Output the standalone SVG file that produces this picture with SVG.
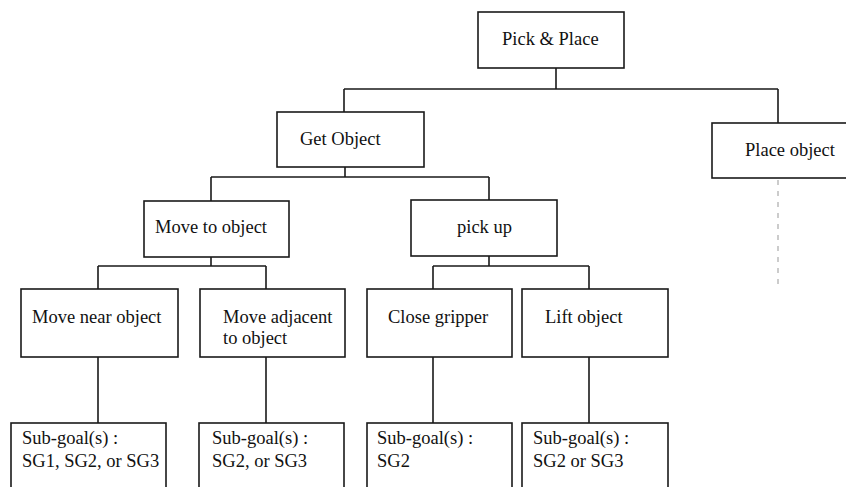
<svg xmlns="http://www.w3.org/2000/svg" width="846" height="487" viewBox="0 0 846 487">
<style>
.box{fill:#fff;stroke:#1a1a1a;stroke-width:1.6}
.lbl{font-family:"Liberation Serif","Times New Roman",serif;font-size:18.5px;fill:#111}
.ln{fill:none;stroke:#1a1a1a;stroke-width:1.6}
.dash{fill:none;stroke:#999;stroke-width:1;stroke-dasharray:5,6}
</style>
<rect width="846" height="487" fill="#fff"/>
<g id="connectors">
<path class="ln" d="M556,68V89M344,89H778M344,89V112M778,89V123"/>
<path class="ln" d="M345,167V177M211,177H489M211,177V201M489,177V200"/>
<path class="ln" d="M211,257V266M98,266H266M98,266V289M266,266V289"/>
<path class="ln" d="M489,256V266M433,266H589M433,266V289M589,266V289"/>
<path class="ln" d="M98,357V423M266,357V423M433,357V423M589,357V423"/>
<path class="dash" d="M778,180V288"/>
</g>
<g id="pick-place"><rect class="box" x="478" y="12" width="146" height="56"/><text class="lbl" x="502" y="45">Pick &amp; Place</text></g>
<g id="get-object"><rect class="box" x="277" y="112" width="147" height="55"/><text class="lbl" x="300" y="145">Get Object</text></g>
<g id="place-object"><rect class="box" x="712" y="123" width="140" height="55"/><text class="lbl" x="745" y="156">Place object</text></g>
<g id="move-to-object"><rect class="box" x="144" y="201" width="145" height="56"/><text class="lbl" x="155" y="233">Move to object</text></g>
<g id="pick-up"><rect class="box" x="411" y="200" width="146" height="56"/><text class="lbl" x="457" y="233">pick up</text></g>
<g id="move-near"><rect class="box" x="21" y="289" width="157" height="68"/><text class="lbl" x="32" y="323">Move near object</text></g>
<g id="move-adjacent"><rect class="box" x="200" y="289" width="145" height="68"/><text class="lbl" x="223" y="323">Move adjacent</text><text class="lbl" x="223" y="344">to object</text></g>
<g id="close-gripper"><rect class="box" x="367" y="289" width="145" height="68"/><text class="lbl" x="388" y="323">Close gripper</text></g>
<g id="lift-object"><rect class="box" x="522" y="289" width="146" height="68"/><text class="lbl" x="545" y="323">Lift object</text></g>
<g id="sg-1"><rect class="box" x="11" y="423" width="155" height="70"/><text class="lbl" x="22" y="444">Sub-goal(s) :</text><text class="lbl" x="22" y="467">SG1, SG2, or SG3</text></g>
<g id="sg-2"><rect class="box" x="199" y="423" width="145" height="70"/><text class="lbl" x="212" y="444">Sub-goal(s) :</text><text class="lbl" x="212" y="467">SG2, or SG3</text></g>
<g id="sg-3"><rect class="box" x="367" y="423" width="145" height="70"/><text class="lbl" x="377" y="444">Sub-goal(s) :</text><text class="lbl" x="377" y="467">SG2</text></g>
<g id="sg-4"><rect class="box" x="522" y="423" width="146" height="70"/><text class="lbl" x="533" y="444">Sub-goal(s) :</text><text class="lbl" x="533" y="467">SG2 or SG3</text></g>
</svg>
